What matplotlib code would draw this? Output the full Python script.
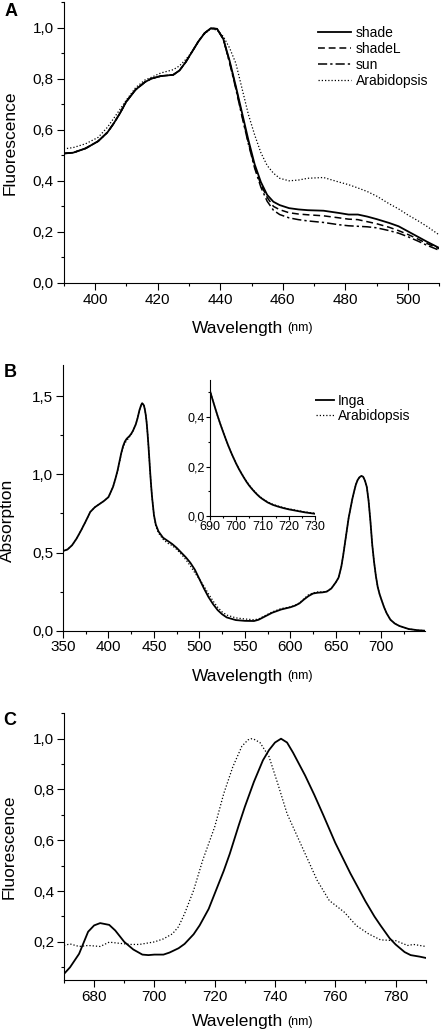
import matplotlib
matplotlib.use("Agg")
import matplotlib.pyplot as plt
from matplotlib.ticker import MultipleLocator, FuncFormatter

plt.rcParams['font.family'] = ['Liberation Sans', 'DejaVu Sans']

# Panel A: fluorescence excitation spectra
wl_a = [390, 393, 397, 401, 404, 406, 408, 410, 413, 416, 418, 421, 425, 427,
        429, 431, 433, 435, 437, 439, 441, 443, 445, 447, 449, 451, 453, 455,
        457, 459, 462, 465, 468, 473, 478, 481, 484, 487, 490, 494, 497, 500,
        503, 506, 510]
shade = [0.507, 0.51, 0.527, 0.555, 0.59, 0.625, 0.665, 0.71, 0.757, 0.787,
         0.80, 0.81, 0.815, 0.832, 0.865, 0.905, 0.945, 0.978, 0.997, 0.995,
         0.955, 0.87, 0.77, 0.665, 0.56, 0.465, 0.395, 0.345, 0.318, 0.305,
         0.293, 0.288, 0.285, 0.283, 0.274, 0.268, 0.268, 0.26, 0.25, 0.235,
         0.222, 0.202, 0.182, 0.162, 0.137]
shadeL = [0.507, 0.51, 0.527, 0.555, 0.59, 0.625, 0.665, 0.71, 0.757, 0.787,
          0.80, 0.81, 0.815, 0.832, 0.865, 0.905, 0.945, 0.978, 0.997, 0.995,
          0.955, 0.865, 0.765, 0.655, 0.55, 0.455, 0.385, 0.335, 0.30, 0.287,
          0.275, 0.27, 0.267, 0.263, 0.255, 0.25, 0.248, 0.24, 0.232, 0.218,
          0.205, 0.19, 0.173, 0.155, 0.134]
sun = [0.507, 0.51, 0.527, 0.555, 0.59, 0.625, 0.665, 0.71, 0.757, 0.787,
       0.80, 0.81, 0.815, 0.832, 0.865, 0.905, 0.945, 0.978, 0.997, 0.995,
       0.955, 0.862, 0.76, 0.65, 0.545, 0.45, 0.375, 0.32, 0.285, 0.268,
       0.255, 0.248, 0.243, 0.237, 0.228, 0.224, 0.222, 0.22, 0.216, 0.205,
       0.195, 0.181, 0.165, 0.148, 0.128]
arab_a = [0.525, 0.53, 0.545, 0.57, 0.61, 0.645, 0.68, 0.716, 0.765, 0.795,
          0.805, 0.822, 0.835, 0.85, 0.875, 0.905, 0.945, 0.975, 0.996, 0.99,
          0.965, 0.92, 0.86, 0.76, 0.66, 0.58, 0.51, 0.46, 0.43, 0.41,
          0.40, 0.403, 0.41, 0.413, 0.395, 0.385, 0.372, 0.358, 0.34, 0.31,
          0.29, 0.266, 0.245, 0.222, 0.188]

# Panel B: absorption spectra
wl_b = [350, 355, 360, 365, 370, 375, 380, 385, 390, 395,
        400, 405, 408, 410, 412, 414, 416, 418, 420, 423,
        425, 427, 430, 432, 434, 436, 437, 438, 439, 440,
        441, 442, 443, 444, 445, 446, 447, 448, 450, 452,
        455, 460, 465, 470, 475, 480, 485, 490, 495, 500,
        505, 510, 515, 520, 525, 530, 540, 550, 560, 565,
        570, 575, 580, 590, 600, 605, 610, 615, 620, 625,
        630, 635, 640, 645, 650, 653, 656, 658, 660, 662,
        664, 666, 668, 670, 672, 674, 676, 678, 680, 682,
        684, 686, 688, 690, 692, 694, 696, 698, 700, 703,
        706, 710, 715, 720, 730, 740, 748]
inga = [0.51, 0.52, 0.547, 0.59, 0.643, 0.70, 0.76, 0.79, 0.81, 0.83,
        0.855, 0.92, 0.98, 1.025, 1.08, 1.135, 1.18, 1.21, 1.228, 1.245,
        1.26, 1.28, 1.32, 1.36, 1.41, 1.445, 1.455, 1.45, 1.44, 1.415,
        1.38, 1.33, 1.26, 1.18, 1.09, 1.0, 0.92, 0.85, 0.74, 0.68,
        0.635, 0.595, 0.575, 0.555, 0.53, 0.50, 0.47, 0.435, 0.39, 0.33,
        0.27, 0.215, 0.17, 0.132, 0.105, 0.085, 0.068, 0.063, 0.062, 0.07,
        0.085, 0.10, 0.115, 0.136, 0.15, 0.16, 0.175, 0.20, 0.222, 0.238,
        0.243, 0.245, 0.25, 0.27, 0.31, 0.34, 0.41, 0.48, 0.56, 0.64,
        0.72, 0.78, 0.84, 0.89, 0.935, 0.965, 0.982, 0.99, 0.985, 0.96,
        0.92, 0.83, 0.70, 0.55, 0.44, 0.35, 0.28, 0.235, 0.20, 0.15,
        0.11, 0.07, 0.045, 0.03, 0.011, 0.003, 0.0]
arab_b = [0.51, 0.52, 0.547, 0.59, 0.643, 0.70, 0.76, 0.79, 0.81, 0.83,
          0.855, 0.92, 0.975, 1.02, 1.075, 1.13, 1.17, 1.20, 1.215, 1.24,
          1.255, 1.28, 1.32, 1.36, 1.41, 1.445, 1.455, 1.45, 1.44, 1.415,
          1.38, 1.33, 1.26, 1.18, 1.09, 1.0, 0.92, 0.85, 0.735, 0.67,
          0.625, 0.585, 0.56, 0.545, 0.52, 0.49, 0.455, 0.415, 0.37, 0.33,
          0.285, 0.235, 0.19, 0.15, 0.12, 0.10, 0.082, 0.075, 0.07, 0.075,
          0.09, 0.105, 0.12, 0.142, 0.152, 0.162, 0.178, 0.205, 0.23, 0.242,
          0.248, 0.248, 0.252, 0.27, 0.31, 0.34, 0.41, 0.48, 0.56, 0.64,
          0.72, 0.78, 0.84, 0.89, 0.935, 0.965, 0.982, 0.99, 0.985, 0.96,
          0.92, 0.83, 0.70, 0.55, 0.44, 0.35, 0.28, 0.235, 0.20, 0.15,
          0.11, 0.07, 0.045, 0.03, 0.011, 0.003, 0.0]

# Inset of panel B (690-730 nm tail)
wl_in = [690, 691, 692, 693, 694, 695, 696, 697, 698, 699, 700, 701, 702,
         703, 704, 705, 706, 707, 708, 709, 710, 712, 714, 716, 718, 720,
         723, 726, 730]
inga_in = [0.51, 0.474, 0.439, 0.405, 0.373, 0.343, 0.314, 0.286, 0.26,
           0.236, 0.213, 0.192, 0.173, 0.155, 0.138, 0.123, 0.11, 0.098,
           0.087, 0.077, 0.069, 0.055, 0.045, 0.038, 0.032, 0.027, 0.021,
           0.015, 0.009]
arab_in = [0.51, 0.474, 0.439, 0.405, 0.373, 0.343, 0.314, 0.286, 0.26,
           0.236, 0.214, 0.193, 0.174, 0.157, 0.14, 0.125, 0.112, 0.1,
           0.089, 0.079, 0.071, 0.057, 0.047, 0.04, 0.034, 0.029, 0.023,
           0.017, 0.011]

# Panel C: 77K fluorescence emission
wl_c = [670, 672, 675, 678, 680, 682, 685, 687, 690, 693, 696, 698, 700, 703,
        705, 708, 710, 713, 715, 718, 720, 723, 725, 728, 730, 733, 736, 738,
        740, 742, 744, 746, 748, 750, 753, 756, 760, 765, 770, 773, 775, 778,
        780, 783, 785, 788, 790]
inga_c = [0.074, 0.10, 0.153, 0.24, 0.265, 0.274, 0.267, 0.245, 0.20, 0.17,
          0.15, 0.148, 0.15, 0.15, 0.158, 0.175, 0.192, 0.23, 0.265, 0.33,
          0.39, 0.48, 0.547, 0.66, 0.732, 0.83, 0.915, 0.955, 0.985, 1.0,
          0.985, 0.945, 0.90, 0.855, 0.78, 0.70, 0.59, 0.47, 0.36, 0.30,
          0.265, 0.215, 0.19, 0.16, 0.148, 0.142, 0.137]
wl_c2 = [670, 672, 675, 678, 682, 685, 688, 692, 695, 700, 703, 706, 708, 710,
         713, 716, 720, 723, 726, 729, 731, 732, 733, 735, 738, 741, 744, 747,
         751, 754, 758, 763, 767, 771, 775, 780, 784, 786, 790]
arab_c = [0.186, 0.192, 0.182, 0.186, 0.182, 0.199, 0.195, 0.19, 0.19, 0.20,
          0.212, 0.232, 0.26, 0.311, 0.403, 0.521, 0.653, 0.784, 0.889, 0.97,
          0.995, 1.0, 0.998, 0.985, 0.93, 0.82, 0.705, 0.626, 0.521, 0.442,
          0.363, 0.317, 0.264, 0.232, 0.208, 0.205, 0.186, 0.19, 0.182]

W, H = 442, 1034
DOT = (0, (1, 1.6))


def px(x0, y0, x1, y1):
    # pixel box -> figure fraction [left, bottom, width, height]
    return [x0 / W, 1 - y1 / H, (x1 - x0) / W, (y1 - y0) / H]


def comma(v, pos):
    return ('%.1f' % v).replace('.', ',')


def style_axes(ax, xlim, ylim, xmaj, ymaj, size=11, ticklen=5):
    ax.set_xlim(*xlim)
    ax.set_ylim(*ylim)
    ax.xaxis.set_major_locator(MultipleLocator(xmaj))
    ax.xaxis.set_minor_locator(MultipleLocator(xmaj / 2))
    ax.yaxis.set_major_locator(MultipleLocator(ymaj))
    ax.yaxis.set_minor_locator(MultipleLocator(ymaj / 2))
    ax.yaxis.set_major_formatter(FuncFormatter(comma))
    ax.spines['top'].set_visible(False)
    ax.spines['right'].set_visible(False)
    for s in ('left', 'bottom'):
        ax.spines[s].set_linewidth(0.8)
    ax.tick_params(which='major', direction='out', length=ticklen, width=0.8,
                   labelsize=size, pad=2)
    ax.tick_params(which='minor', direction='out', length=ticklen / 2,
                   width=0.8)


def wavelength_label(fig, y):
    fig.text(283 / W, 1 - y / H, 'Wavelength', ha='right', va='center',
             fontsize=12.5)
    fig.text(287 / W, 1 - y / H, '(nm)', ha='left', va='center', fontsize=9)


def main():
    fig = plt.figure(figsize=(W / 100, H / 100), dpi=100)

    # A
    ax = fig.add_axes(px(63.7, 2, 439.3, 283))
    ax.plot(wl_a, shade, color='black', lw=1.3, label='shade')
    ax.plot(wl_a, shadeL, color='black', lw=1.1, ls=(0, (4.5, 2.5)),
            label='shadeL')
    ax.plot(wl_a, sun, color='black', lw=1.1, ls=(0, (6, 2, 1.5, 2)),
            label='sun')
    ax.plot(wl_a, arab_a, color='black', lw=0.9, ls=DOT, label='Arabidopsis')
    style_axes(ax, (390, 510), (0, 1.1), 20, 0.2)
    ax.set_ylabel('Fluorescence', fontsize=12.5)
    ax.yaxis.set_label_coords(-0.124, 0.5)
    ax.legend(loc='upper left', bbox_to_anchor=(318 / W, 1 - 26 / H),
              bbox_transform=fig.transFigure, frameon=False, fontsize=10,
              handlelength=2.4, handletextpad=0.3, labelspacing=0.15,
              borderpad=0, borderaxespad=0)
    wavelength_label(fig, 328)
    fig.text(11 / W, 1 - 12 / H, 'A', fontsize=13, fontweight='bold',
             ha='center', va='center')

    # B
    ax = fig.add_axes(px(63, 365, 425, 630.7))
    ax.plot(wl_b, inga, color='black', lw=1.3, label='Inga')
    ax.plot(wl_b, arab_b, color='black', lw=0.9, ls=DOT, label='Arabidopsis')
    style_axes(ax, (350, 748), (0, 1.7), 50, 0.5)
    ax.set_ylabel('Absorption', fontsize=12.5)
    ax.yaxis.set_label_coords(-0.132, 0.414)
    ax.legend(loc='upper left', bbox_to_anchor=(303 / W, 1 - 394 / H),
              bbox_transform=fig.transFigure, frameon=False, fontsize=10,
              handlelength=2.2, handletextpad=0.3, labelspacing=0.05,
              borderpad=0, borderaxespad=0)
    wavelength_label(fig, 676)
    fig.text(10 / W, 1 - 372.5 / H, 'B', fontsize=13, fontweight='bold',
             ha='center', va='center')

    # inset
    ins = fig.add_axes(px(209.7, 380, 315, 516))
    ins.plot(wl_in, inga_in, color='black', lw=1.3)
    ins.plot(wl_in, arab_in, color='black', lw=0.9, ls=DOT)
    style_axes(ins, (690, 730), (0, 0.55), 10, 0.2, size=9, ticklen=3)
    ins.tick_params(which='major', pad=0.5)

    # C
    ax = fig.add_axes(px(64, 713.3, 425.7, 980))
    ax.plot(wl_c, inga_c, color='black', lw=1.3)
    ax.plot(wl_c2, arab_c, color='black', lw=0.9, ls=DOT)
    style_axes(ax, (670, 790), (0.05, 1.1), 20, 0.2)
    ax.set_ylabel('Fluorescence', fontsize=12.5)
    ax.yaxis.set_label_coords(-0.131, 0.5)
    wavelength_label(fig, 1021.7)
    fig.text(10 / W, 1 - 720.5 / H, 'C', fontsize=13, fontweight='bold',
             ha='center', va='center')

    fig.savefig('out.png', dpi=100)


main()
